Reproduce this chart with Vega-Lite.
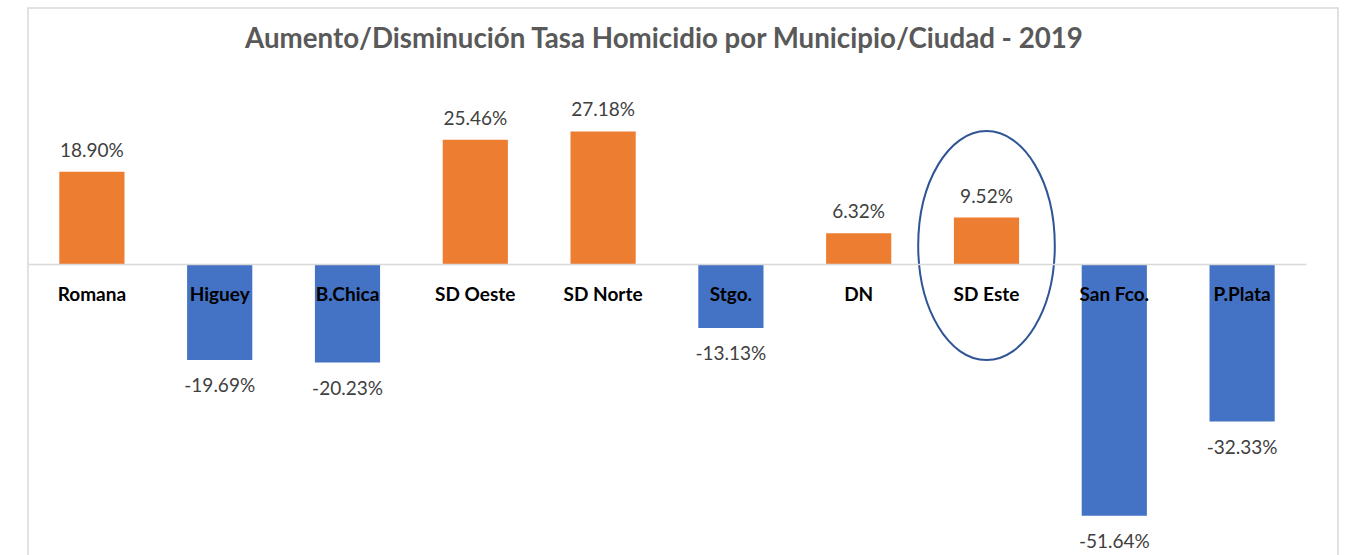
{
  "$schema": "https://vega.github.io/schema/vega-lite/v6.json",
  "width": 1310,
  "height": 560,
  "autosize": {"type": "none"},
  "padding": {"left": 28, "top": 8, "right": 7, "bottom": 0},
  "background": "white",
  "config": {
    "view": {"stroke": "#d9d9d9", "strokeWidth": 1.5},
    "locale": {"number": {"decimal": ".", "thousands": ",", "grouping": [3], "currency": ["$", ""], "minus": "-"}}
  },
  "title": {
    "text": "Aumento/Disminución Tasa Homicidio por Municipio/Ciudad - 2019",
    "anchor": "middle",
    "font": "Lato",
    "fontSize": 27.7,
    "fontWeight": "bold",
    "color": "#595959",
    "dx": -19,
    "dy": 72,
    "baseline": "alphabetic"
  },
  "data": {
    "values": [
      {"city": "Romana", "value": 0.1890},
      {"city": "Higuey", "value": -0.1969},
      {"city": "B.Chica", "value": -0.2023},
      {"city": "SD Oeste", "value": 0.2546},
      {"city": "SD Norte", "value": 0.2718},
      {"city": "Stgo.", "value": -0.1313},
      {"city": "DN", "value": 0.0632},
      {"city": "SD Este", "value": 0.0952},
      {"city": "San Fco.", "value": -0.5164},
      {"city": "P.Plata", "value": -0.3233}
    ]
  },
  "encoding": {
    "x": {
      "field": "city",
      "type": "nominal",
      "sort": null,
      "scale": {"range": [0, 1278], "paddingInner": 0.49, "paddingOuter": 0.245},
      "axis": {
        "orient": "bottom",
        "offset": -304,
        "title": null,
        "ticks": false,
        "tickSize": 0,
        "labelAngle": 0,
        "labelFont": "Lato",
        "labelFontWeight": "bold",
        "labelFontSize": 19,
        "labelColor": "#000000",
        "labelPadding": 21,
        "domainColor": "#d9d9d9",
        "domainWidth": 1.5,
        "zindex": 1
      }
    },
    "y": {
      "field": "value",
      "type": "quantitative",
      "scale": {"domain": [-0.6236, 0.5251], "nice": false, "zero": false},
      "axis": null
    }
  },
  "layer": [
    {
      "mark": {"type": "bar"},
      "encoding": {
        "y2": {"datum": 0},
        "color": {"condition": {"test": "datum.value < 0", "value": "#4472C4"}, "value": "#ED7D31"}
      }
    },
    {
      "transform": [{"filter": "datum.value >= 0"}],
      "mark": {"type": "text", "font": "Lato", "fontSize": 19, "color": "#404040", "baseline": "alphabetic", "dy": -15},
      "encoding": {"text": {"field": "value", "type": "quantitative", "format": ".2%"}}
    },
    {
      "transform": [{"filter": "datum.value < 0"}],
      "mark": {"type": "text", "font": "Lato", "fontSize": 19, "color": "#404040", "baseline": "alphabetic", "dy": 32},
      "encoding": {"text": {"field": "value", "type": "quantitative", "format": ".2%"}}
    },
    {
      "transform": [{"filter": "datum.city == 'SD Este'"}],
      "mark": {
        "type": "point",
        "shape": "M0,-1 A0.5965,1 0 1,1 0,1 A0.5965,1 0 1,1 0,-1 Z",
        "size": 52441,
        "filled": false,
        "stroke": "#2F5597",
        "strokeWidth": 2,
        "opacity": 1,
        "yOffset": 28
      }
    }
  ]
}
